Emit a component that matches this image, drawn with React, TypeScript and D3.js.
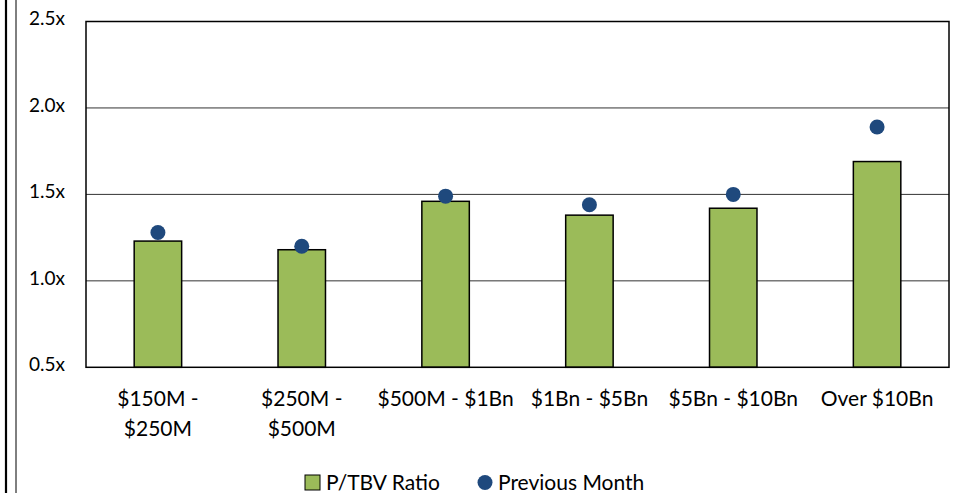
import React from "react";
import * as d3 from "d3";

const categories = [
  ["$150M -", "$250M"],
  ["$250M -", "$500M"],
  ["$500M - $1Bn"],
  ["$1Bn - $5Bn"],
  ["$5Bn - $10Bn"],
  ["Over $10Bn"],
];
const ptbv = [1.23, 1.18, 1.46, 1.38, 1.42, 1.69];
const prevMonth = [1.28, 1.2, 1.49, 1.44, 1.5, 1.89];
const yTicks = [0.5, 1.0, 1.5, 2.0, 2.5];

const W = 956;
const H = 493;
const FONT = "Lato, 'Open Sans', sans-serif";

export default function App() {
  const left = 86, right = 949, top = 21.5, bottom = 367.3;
  const x = d3.scaleBand<number>().domain(d3.range(categories.length)).range([left, right]).paddingInner(0).paddingOuter(0);
  const y = d3.scaleLinear().domain([0.5, 2.5]).range([bottom, top]);
  const bw = x.bandwidth() * 0.33;

  return (
    <div style={{ position: "absolute", left: 0, top: 0 }}>
      <svg width={W} height={H} style={{ display: "block", fontFamily: FONT }}>
        <rect x={0} y={0} width={W} height={H} fill="#fff" />
        <line x1={6} x2={6} y1={0} y2={H} stroke="#000" strokeWidth={2.2} />
        <line x1={16} x2={16} y1={0} y2={H} stroke="#000" strokeWidth={1} />

        {yTicks.map((t) => (
          <g key={t}>
            {t > 0.5 && t < 2.5 && (
              <line x1={left} x2={right} y1={y(t)} y2={y(t)} stroke="#333" strokeWidth={1} />
            )}
            <text x={65} y={y(t)} dy="0.2em" textAnchor="end" fontSize={19} fill="#000">
              {t.toFixed(1)}x
            </text>
          </g>
        ))}

        {ptbv.map((v, i) => (
          <rect
            key={i}
            x={x(i)! + x.bandwidth() / 2 - bw / 2}
            y={y(v)}
            width={bw}
            height={bottom - y(v)}
            fill="#9BBB59"
            stroke="#000"
            strokeWidth={1.5}
          />
        ))}

        <rect x={left} y={top} width={right - left} height={bottom - top} fill="none" stroke="#000" strokeWidth={1.5} />

        {prevMonth.map((v, i) => (
          <circle key={i} cx={x(i)! + x.bandwidth() / 2} cy={y(v)} r={7.5} fill="#1F497D" />
        ))}

        {categories.map((lines, i) => (
          <text key={i} textAnchor="middle" fontSize={21} fill="#000">
            {lines.map((l, j) => (
              <tspan key={j} x={x(i)! + x.bandwidth() / 2} y={406 + j * 30}>
                {l}
              </tspan>
            ))}
          </text>
        ))}

        <g>
          <rect x={305} y={475} width={15} height={15} fill="#9BBB59" stroke="#000" strokeWidth={1} />
          <text x={326} y={490} fontSize={21} fill="#000">P/TBV Ratio</text>
          <circle cx={485} cy={482.5} r={7.5} fill="#1F497D" />
          <text x={498} y={490} fontSize={21} fill="#000">Previous Month</text>
        </g>
      </svg>
    </div>
  );
}
